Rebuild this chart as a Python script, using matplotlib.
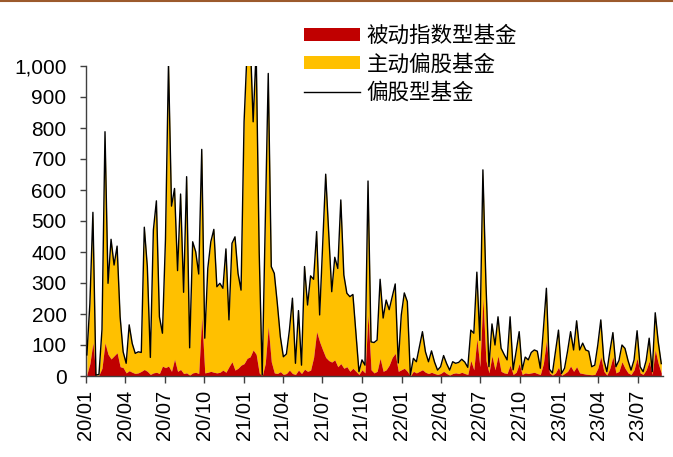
import matplotlib
matplotlib.use("Agg")
import matplotlib.pyplot as plt
import matplotlib.dates as mdates
from matplotlib.patches import Patch
from matplotlib.lines import Line2D
from matplotlib.ticker import FuncFormatter
import pandas as pd
import numpy as np

start_date = "2020-01-03"

# 偏股型基金 total (weekly, 亿元)
total = [
    68, 234, 528, 3, 5, 150, 788, 299, 441, 358,
    419, 191, 78, 41, 165, 105, 73, 78, 76, 480,
    353, 60, 471, 565, 191, 138, 440, 1010, 548, 605,
    340, 587, 270, 643, 91, 433, 401, 329, 731, 122,
    347, 433, 473, 288, 299, 283, 410, 181, 428, 449,
    331, 277, 820, 1050, 1100, 820, 1050, 400, 3, 490,
    976, 353, 331, 234, 127, 62, 71, 148, 251, 41,
    211, 35, 353, 229, 323, 312, 466, 197, 420, 651,
    460, 272, 383, 347, 568, 326, 267, 256, 263, 140,
    14, 52, 35, 629, 110, 108, 116, 312, 187, 245,
    214, 255, 297, 42, 197, 268, 240, 3, 57, 46,
    95, 143, 78, 46, 81, 45, 19, 30, 66, 40,
    19, 46, 41, 44, 54, 45, 28, 148, 138, 335,
    115, 665, 300, 30, 168, 100, 191, 90, 70, 52,
    191, 20, 80, 143, 20, 61, 52, 76, 84, 80,
    25, 150, 283, 22, 10, 80, 148, 8, 25, 80,
    143, 84, 178, 84, 106, 84, 80, 30, 35, 100,
    181, 52, 14, 80, 140, 30, 50, 100, 89, 50,
    19, 52, 146, 30, 14, 50, 122, 14, 204, 110,
    40,
]

# 被动指数型基金
passive = [
    5, 40, 107, 0, 3, 25, 107, 70, 55, 65,
    75, 30, 27, 10, 17, 12, 8, 10, 15, 21,
    15, 5, 10, 12, 8, 32, 27, 32, 15, 54,
    15, 21, 8, 10, 3, 10, 12, 8, 190, 10,
    12, 15, 12, 10, 12, 19, 12, 30, 46, 19,
    25, 35, 40, 57, 62, 84, 70, 10, 0, 40,
    159, 46, 10, 8, 14, 5, 8, 19, 8, 5,
    19, 8, 22, 15, 19, 60, 143, 110, 84, 60,
    50, 45, 52, 30, 40, 25, 30, 15, 25, 15,
    5, 20, 10, 197, 20, 10, 15, 57, 15, 20,
    35, 60, 73, 15, 20, 25, 15, 0, 15, 10,
    15, 20, 12, 8, 12, 8, 5, 8, 15, 8,
    3, 8, 10, 8, 12, 8, 5, 50, 20, 120,
    30, 250, 50, 10, 65, 20, 65, 15, 10, 8,
    35, 5, 12, 40, 5, 10, 8, 10, 12, 8,
    5, 40, 113, 10, 3, 10, 28, 2, 8, 15,
    32, 15, 30, 10, 8, 6, 5, 4, 5, 25,
    62, 15, 3, 25, 62, 10, 15, 46, 25, 10,
    5, 20, 57, 10, 5, 20, 48, 5, 84, 40,
    10,
]

series_names = ["被动指数型基金", "主动偏股基金", "偏股型基金"]
y_ticks = [0, 100, 200, 300, 400, 500, 600, 700, 800, 900, 1000]
x_tick_dates = pd.date_range("2020-01-01", "2023-07-01", freq="QS")

dates = pd.date_range(start_date, periods=len(total), freq="7D")
total_arr = np.array(total, dtype=float)
passive_arr = np.array(passive, dtype=float)

RED = "#C00000"
YELLOW = "#FFC000"

W, H = 673, 457
fig = plt.figure(figsize=(W / 100, H / 100), dpi=100)
left, right = 86 / W, 663 / W
bottom, top = 1 - 376 / H, 1 - 66 / H
ax = fig.add_axes([left, bottom, right - left, top - bottom])

ax.fill_between(dates, 0, passive_arr, color=RED, linewidth=0, zorder=2)
ax.fill_between(dates, passive_arr, total_arr, color=YELLOW, linewidth=0, zorder=1)
ax.plot(dates, total_arr, color="black", linewidth=1.0, zorder=3)

ax.set_ylim(0, 1000)
ax.set_xlim(pd.Timestamp("2020-01-01"), dates[-1] + pd.Timedelta(days=4))
ax.set_yticks(y_ticks)
ax.yaxis.set_major_formatter(FuncFormatter(lambda v, p: f"{v:,.0f}"))
ax.set_xticks(x_tick_dates)
ax.xaxis.set_major_formatter(mdates.DateFormatter("%y/%m"))

for s in ["top", "right"]:
    ax.spines[s].set_visible(False)
for s in ["left", "bottom"]:
    ax.spines[s].set_color("#404040")
    ax.spines[s].set_linewidth(1.0)

ax.tick_params(axis="x", direction="out", length=5, width=1, color="#404040",
               pad=5, labelrotation=90, labelsize=14.5)
ax.tick_params(axis="y", direction="out", length=4, width=1, color="#404040",
               pad=10, labelsize=15)
for lab in ax.get_xticklabels() + ax.get_yticklabels():
    lab.set_fontfamily(["Liberation Sans", "DejaVu Sans"])

handles = [
    Patch(facecolor=RED, edgecolor="none"),
    Patch(facecolor=YELLOW, edgecolor="none"),
    Line2D([0], [0], color="black", linewidth=1.0),
]
leg = fig.legend(handles, series_names, loc="upper left",
                 bbox_to_anchor=(304 / W, 1 - 25 / H), frameon=False,
                 prop={"family": ["Noto Sans CJK SC", "DejaVu Sans"], "size": 15.5},
                 handlelength=2.6, handleheight=0.56, labelspacing=0.3,
                 handletextpad=0.3, borderpad=0, borderaxespad=0)

fig.add_artist(Line2D([0, 1], [1 - 0.8 / H, 1 - 0.8 / H], transform=fig.transFigure,
                      color="#9C5A2C", linewidth=1.5))

fig.savefig("out.png", dpi=100)
